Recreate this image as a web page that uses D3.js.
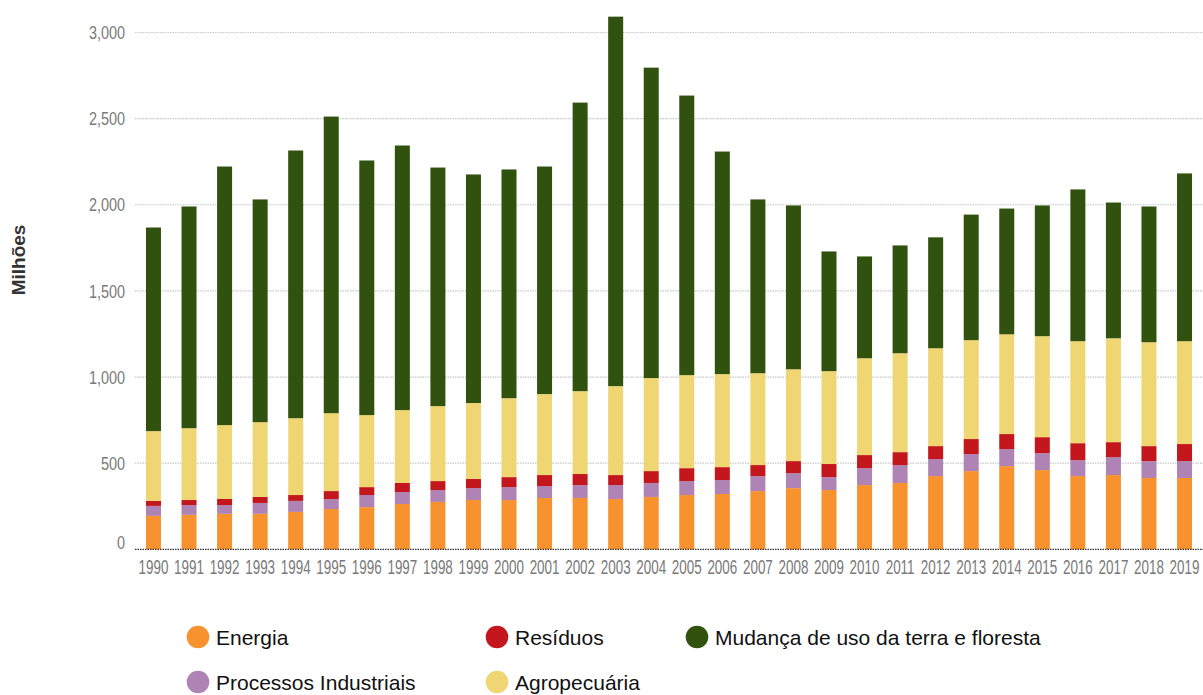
<!DOCTYPE html>
<html>
<head>
<meta charset="utf-8">
<script src="https://cdnjs.cloudflare.com/ajax/libs/d3/7.8.5/d3.min.js"></script>
<style>
  body { margin: 0; background: #fff; }
  svg { display: block; }
</style>
</head>
<body>
<svg id="chart"></svg>
<script>
var width = 1203,
    height = 695;

// data (milhões)
var years = ["1990","1991","1992","1993","1994","1995","1996","1997","1998","1999",
             "2000","2001","2002","2003","2004","2005","2006","2007","2008","2009",
             "2010","2011","2012","2013","2014","2015","2016","2017","2018","2019"];
var energia    = [194,200,206,206,217,234,245,263,275,286,286,298,298,292,304,315,321,338,355,344,373,385,425,454,483,460,425,431,414,414];
var processos  = [58,57,51,63,64,58,70,69,69,69,75,69,75,81,81,81,81,87,87,75,98,104,99,99,99,98,93,104,98,98];
var residuos   = [29,29,35,35,34,46,46,53,52,53,58,64,64,58,69,75,75,64,70,76,76,75,75,87,87,93,98,87,87,99];
var agro       = [405,417,429,434,446,452,418,423,435,441,458,470,481,516,540,540,540,533,533,539,562,574,568,574,579,586,592,603,603,597];
var mudanca    = [1182,1287,1501,1293,1554,1722,1478,1536,1385,1327,1328,1321,1675,2145,1802,1623,1292,1009,951,695,591,626,644,729,730,759,881,788,788,974];
var yTicks = [0,500,1000,1500,2000,2500,3000];

var series = [
  {key: "energia",   name: "Energia",                            color: "#F7922F", values: energia},
  {key: "processos", name: "Processos Industriais",              color: "#AF83B3", values: processos},
  {key: "residuos",  name: "Resíduos",                           color: "#C3171D", values: residuos},
  {key: "agro",      name: "Agropecuária",                       color: "#F0D673", values: agro},
  {key: "mudanca",   name: "Mudança de uso da terra e floresta", color: "#31520F", values: mudanca}
];

var table = years.map(function(y, i) {
  var row = {year: y};
  series.forEach(function(s) { row[s.key] = s.values[i]; });
  return row;
});

var svg = d3.select("#chart")
    .attr("width", width)
    .attr("height", height)
    .style("font-family", "'Liberation Sans', Arial, sans-serif");

var x = d3.scaleBand()
    .domain(years)
    .range([135.7, 1202.3])
    .paddingInner(0.578)
    .paddingOuter(0.289);

var y = d3.scaleLinear()
    .domain([0, 3000])
    .range([549.3, 32.5]);

// gridlines
svg.append("g")
  .selectAll("line")
  .data(yTicks.filter(function(d) { return d > 0; }))
  .enter().append("line")
    .attr("x1", 135)
    .attr("x2", width)
    .attr("y1", function(d) { return y(d); })
    .attr("y2", function(d) { return y(d); })
    .style("stroke", "#c8c8c8")
    .style("stroke-width", 1.2)
    .style("stroke-dasharray", "1.5,1");

// y tick labels (condensed look via horizontal scale)
var fmt = d3.format(",");
svg.append("g")
  .selectAll("text")
  .data(yTicks)
  .enter().append("text")
    .attr("transform", function(d) {
      return "translate(125," + (y(d) - (d == 0 ? 7 : 0)) + ") scale(0.76,1)";
    })
    .attr("dy", "0.35em")
    .style("text-anchor", "end")
    .style("font-size", "19px")
    .style("fill", "#7a7a7a")
    .text(function(d) { return fmt(d); });

svg.append("text")
    .attr("transform", "translate(25,260) rotate(-90)")
    .style("text-anchor", "middle")
    .style("font-size", "19px")
    .style("font-weight", "bold")
    .style("fill", "#333")
    .text("Milhões");

// stacked bars
var stack = d3.stack().keys(series.map(function(s) { return s.key; }));
var layers = stack(table);

svg.append("g")
  .selectAll("g")
  .data(layers)
  .enter().append("g")
    .style("fill", function(d, i) { return series[i].color; })
  .selectAll("rect")
  .data(function(d) { return d; })
  .enter().append("rect")
    .attr("x", function(d) { return x(d.data.year); })
    .attr("y", function(d) { return y(d[1]); })
    .attr("width", x.bandwidth())
    .attr("height", function(d) { return y(d[0]) - y(d[1]); });

// baseline
svg.append("line")
    .attr("x1", 135)
    .attr("x2", width)
    .attr("y1", y(0))
    .attr("y2", y(0))
    .style("stroke", "#333")
    .style("stroke-width", 1.2)
    .style("stroke-dasharray", "1.5,1");

// year labels
svg.append("g")
  .selectAll("text")
  .data(years)
  .enter().append("text")
    .attr("transform", function(d) {
      var cx = Math.min(x(d) + x.bandwidth() / 2, 1186);
      return "translate(" + cx + ",574) scale(0.64,1)";
    })
    .style("text-anchor", "middle")
    .style("font-size", "21px")
    .style("fill", "#7a7a7a")
    .text(function(d) { return d; });

// legend
var legendPos = [[198, 637], [198, 682], [497, 637], [497, 682], [697, 637]];

var legend = svg.append("g")
  .selectAll("g")
  .data(series)
  .enter().append("g")
    .attr("transform", function(d, i) { return "translate(" + legendPos[i][0] + "," + legendPos[i][1] + ")"; });

legend.append("circle")
    .attr("r", 11.3)
    .style("fill", function(d) { return d.color; });

legend.append("text")
    .attr("x", 18)
    .attr("dy", "0.36em")
    .style("font-size", "21px")
    .style("fill", "#111")
    .text(function(d) { return d.name; });
</script>
</body>
</html>
